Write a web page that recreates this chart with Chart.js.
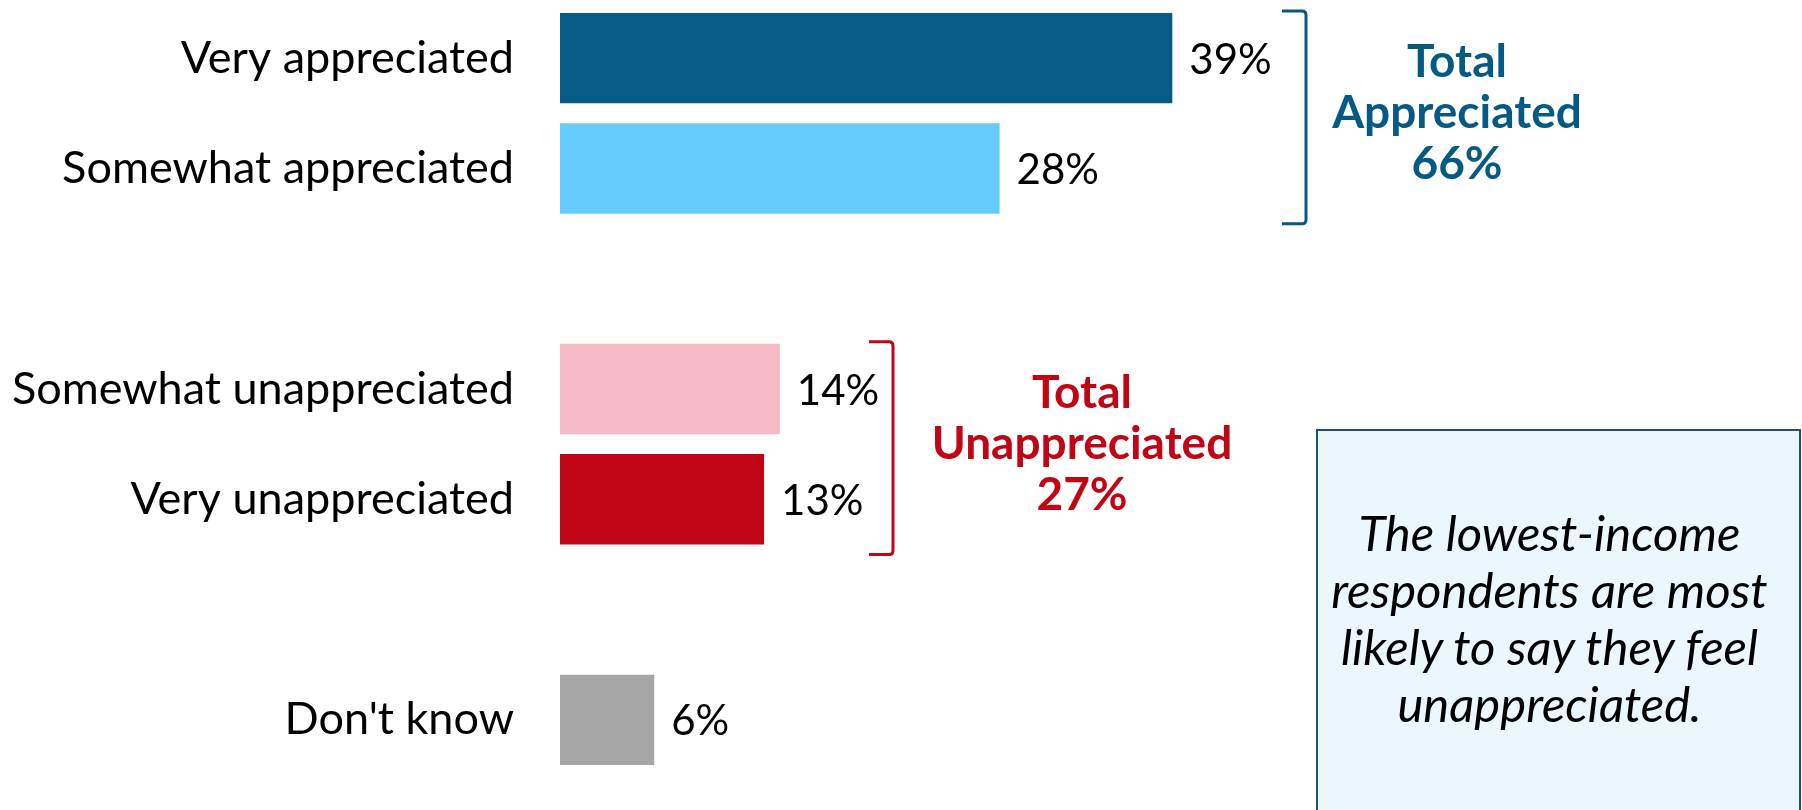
<!DOCTYPE html>
<html>
<head>
<meta charset="utf-8">
<script src="https://cdn.jsdelivr.net/npm/chart.js@4"></script>
<style>
  html, body { margin: 0; padding: 0; background: #fff; }
  #wrap { position: relative; width: 1802px; height: 810px; }
  #note {
    position: absolute; left: 1316px; top: 429px; width: 485px; height: 381px;
    box-sizing: border-box; border: 2px solid #1f4e79; border-bottom: none;
    background: #eaf7fd; display: flex; align-items: center; justify-content: center;
    text-align: center; font-family: Lato, sans-serif; font-style: italic;
    font-size: 49px; line-height: 57px; color: #000; padding: 0 26px 6px 8px;
  }
</style>
</head>
<body>
<div id="wrap">
  <canvas id="chart"></canvas>
  <div id="note">The lowest-income respondents are most likely to say they feel unappreciated.</div>
</div>
<script>
// categories (blank rows are the gaps between groups)
const categories = [
  "Very appreciated",
  "Somewhat appreciated",
  "",
  "Somewhat unappreciated",
  "Very unappreciated",
  "",
  "Don't know"
];
const values = [39, 28, null, 14, 13, null, 6];
const barColors = ["#035b86", "#66ccff", "#fff", "#f4bac5", "#c00515", "#fff", "#a6a6a6"];

// group totals shown beside the brackets
const groupTotals = [
  { lines: ["Total", "Appreciated", "66%"], from: 0, to: 1, color: "#055a84" },
  { lines: ["Total", "Unappreciated", "27%"], from: 3, to: 4, color: "#c00515" }
];

const FONT = "Lato, sans-serif";

// ============================
// PLUGIN: value labels + brackets
// ============================
const annotationsPlugin = {
  id: "annotations",
  afterDatasetsDraw(chart) {
    const ctx = chart.ctx;
    const meta = chart.getDatasetMeta(0);

    ctx.save();
    ctx.fillStyle = "#000";
    ctx.font = "42px " + FONT;
    ctx.textAlign = "left";
    ctx.textBaseline = "middle";
    meta.data.forEach((bar, i) => {
      if (values[i] == null) return;
      ctx.fillText(values[i] + "%", bar.x + 17, bar.y + 2);
    });

    const bracketX = [1306, 893];
    const textX = [1457, 1082];
    groupTotals.forEach((g, k) => {
      const first = meta.data[g.from];
      const last = meta.data[g.to];
      const top = first.y - first.height / 2 - 2;
      const bottom = last.y + last.height / 2 + 10;
      const bx = bracketX[k];

      ctx.strokeStyle = g.color;
      ctx.lineWidth = 3;
      ctx.lineJoin = "round";
      ctx.beginPath();
      ctx.moveTo(bx - 24, top);
      ctx.lineTo(bx - 4, top);
      ctx.quadraticCurveTo(bx, top, bx, top + 4);
      ctx.lineTo(bx, bottom - 4);
      ctx.quadraticCurveTo(bx, bottom, bx - 4, bottom);
      ctx.lineTo(bx - 24, bottom);
      ctx.stroke();

      const mid = (top + bottom) / 2;
      ctx.fillStyle = g.color;
      ctx.font = "bold 46px " + FONT;
      ctx.textAlign = "center";
      g.lines.forEach((line, j) => {
        ctx.fillText(line, textX[k], mid + (j - 1) * 51 - 4);
      });
    });
    ctx.restore();
  }
};

// ============================
// CHART
// ============================
const canvas = document.getElementById("chart");
canvas.width = 1802;
canvas.height = 810;

new Chart(canvas.getContext("2d"), {
  type: "bar",
  data: {
    labels: categories,
    datasets: [
      {
        data: values,
        backgroundColor: barColors,
        barPercentage: 0.82,
        categoryPercentage: 1
      }
    ]
  },
  options: {
    indexAxis: "y",
    responsive: false,
    animation: false,
    layout: { padding: { top: 3, bottom: 35, left: 0, right: 457 } },
    plugins: {
      legend: { display: false },
      tooltip: { enabled: false }
    },
    scales: {
      x: {
        display: false,
        min: 0,
        max: 50
      },
      y: {
        grid: { display: false },
        border: { display: false },
        afterFit(scale) {
          scale.width = 560;
          // tick padding would otherwise also shrink the chart area vertically
          scale.paddingTop = 0;
          scale.paddingBottom = 0;
        },
        ticks: {
          color: "#000",
          padding: 38,
          font: { family: FONT, size: 45 }
        }
      }
    }
  },
  plugins: [annotationsPlugin]
});
</script>
</body>
</html>
